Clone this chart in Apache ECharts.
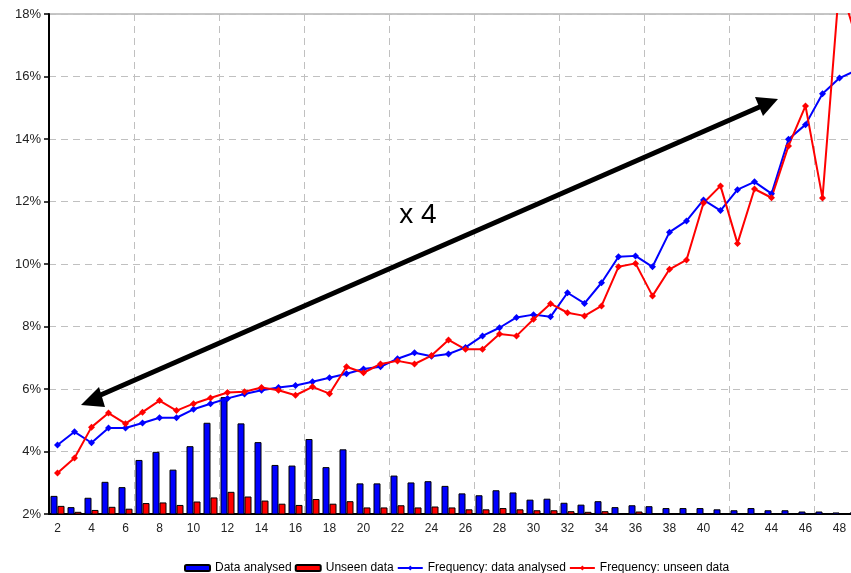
<!DOCTYPE html>
<html>
<head>
<meta charset="utf-8">
<script src="https://cdn.jsdelivr.net/npm/echarts@6/dist/echarts.min.js"></script>
<style>
    html, body { margin: 0; padding: 0; background: #fff; overflow: hidden; }
    /* wider than the window: the original is cropped just past category 48 */
    #chart { width: 865px; height: 573px; }
</style>
</head>
<body>
<div id="chart"></div>
<script>
// categories 2..49 (49 lies just past the right edge, as in the cropped original)
const categories = ['2', '3', '4', '5', '6', '7', '8', '9', '10', '11', '12', '13', '14', '15', '16', '17',
    '18', '19', '20', '21', '22', '23', '24', '25', '26', '27', '28', '29', '30', '31', '32', '33',
    '34', '35', '36', '37', '38', '39', '40', '41', '42', '43', '44', '45', '46', '47', '48', '49'];

const dataAnalysed = [2.58, 2.22, 2.52, 3.03, 2.86, 3.73, 3.99, 3.42, 4.17, 4.92, 5.74, 4.90, 4.30, 3.57, 3.55, 4.40,
    3.50, 4.07, 2.98, 2.98, 3.23, 3.01, 3.05, 2.90, 2.66, 2.60, 2.76, 2.69, 2.46, 2.49, 2.36, 2.30,
    2.41, 2.22, 2.28, 2.25, 2.19, 2.19, 2.19, 2.15, 2.12, 2.19, 2.12, 2.12, 2.08, 2.08, 2.05, 2.05];

const unseenData = [2.26, 2.07, 2.13, 2.23, 2.17, 2.35, 2.37, 2.29, 2.40, 2.53, 2.71, 2.56, 2.43, 2.33, 2.29, 2.48,
    2.33, 2.41, 2.21, 2.21, 2.28, 2.21, 2.24, 2.21, 2.15, 2.15, 2.19, 2.15, 2.12, 2.12, 2.09, 2.07,
    2.09, 2.03, 2.08, 2.02, 2.02, 2.01, 2.02, 2.01, 2.01, 2.01, 2.01, 2.01, 2.01, 2.01, 2.01, 2.01];

const freqAnalysed = [4.21, 4.63, 4.28, 4.75, 4.75, 4.91, 5.08, 5.08, 5.35, 5.53, 5.70, 5.84, 5.96, 6.05, 6.11, 6.23,
    6.36, 6.49, 6.64, 6.71, 6.97, 7.16, 7.05, 7.12, 7.33, 7.70, 7.96, 8.29, 8.38, 8.31, 9.08, 8.74,
    9.40, 10.23, 10.26, 9.91, 11.02, 11.38, 12.05, 11.71, 12.38, 12.63, 12.25, 13.99, 14.46, 15.45, 15.95, 16.2];

const freqUnseen = [3.31, 3.79, 4.78, 5.23, 4.89, 5.26, 5.63, 5.31, 5.53, 5.71, 5.89, 5.91, 6.05, 5.96, 5.80, 6.07,
    5.85, 6.71, 6.52, 6.80, 6.90, 6.80, 7.07, 7.57, 7.27, 7.27, 7.76, 7.70, 8.23, 8.73, 8.44, 8.34,
    8.66, 9.91, 10.02, 8.98, 9.83, 10.13, 11.95, 12.50, 10.66, 12.40, 12.12, 13.78, 15.06, 12.11, 19.0, 17.2];

let chartDom = document.getElementById('chart');
let myChart = echarts.init(chartDom);

const dashed = {
    show: true,
    lineStyle: { color: '#c0c0c0', width: 1, type: [7, 5] }
};

let option = {
    animation: false,
    textStyle: {
        fontFamily: 'Liberation Sans, Arial, sans-serif'
    },
    grid: {
        top: 14,
        bottom: 59,
        left: 49,
        right: 0,
        show: true,
        borderColor: '#8c8c8c',
        borderWidth: 1
    },
    legend: {
        left: 179,
        top: 557,
        itemWidth: 25,
        itemHeight: 6,
        itemGap: 3,
        textStyle: { fontSize: 12, color: '#000' },
        data: ['Data analysed', 'Unseen data', 'Frequency: data analysed', 'Frequency: unseen data']
    },
    xAxis: {
        type: 'category',
        data: categories,
        axisLine: { lineStyle: { color: '#000', width: 2 } },
        axisTick: { interval: 4, length: 5, lineStyle: { color: '#000', width: 1.5 } },
        axisLabel: { interval: 1, color: '#222', fontSize: 12, margin: 9 },
        splitLine: Object.assign({ interval: 4 }, dashed)
    },
    yAxis: {
        type: 'value',
        min: 2,
        max: 18,
        interval: 2,
        axisLine: { show: true, lineStyle: { color: '#000', width: 2 } },
        axisTick: { show: true, length: 5, lineStyle: { color: '#000', width: 1.5 } },
        axisLabel: { formatter: '{value}%', color: '#222', fontSize: 13, margin: 8 },
        splitLine: dashed
    },
    series: [
        {
            name: 'Data analysed',
            type: 'bar',
            data: dataAnalysed,
            barWidth: 7,
            barGap: '0%',
            itemStyle: { color: '#0000ff', borderColor: '#000', borderWidth: 1 }
        },
        {
            name: 'Unseen data',
            type: 'bar',
            data: unseenData,
            barWidth: 7,
            barGap: '0%',
            itemStyle: { color: '#ff0000', borderColor: '#000', borderWidth: 1 }
        },
        {
            name: 'Frequency: data analysed',
            type: 'line',
            data: freqAnalysed,
            symbol: 'diamond',
            symbolSize: 7,
            lineStyle: { color: '#0000ff', width: 2 },
            itemStyle: { color: '#0000ff' }
        },
        {
            name: 'Frequency: unseen data',
            type: 'line',
            data: freqUnseen,
            symbol: 'diamond',
            symbolSize: 7,
            lineStyle: { color: '#ff0000', width: 2 },
            itemStyle: { color: '#ff0000' }
        }
    ],
    // the "x 4" double arrow annotation
    graphic: [
        {
            type: 'line',
            z: 100,
            shape: { x1: 96, y1: 397, x2: 764, y2: 105 },
            style: { stroke: '#000', lineWidth: 5 }
        },
        {
            type: 'polygon',
            z: 100,
            shape: { points: [[81, 405], [99, 387], [105, 407]] },
            style: { fill: '#000' }
        },
        {
            type: 'polygon',
            z: 100,
            shape: { points: [[778, 99], [755, 97], [763, 116]] },
            style: { fill: '#000' }
        },
        {
            type: 'text',
            z: 100,
            x: 418,
            y: 215,
            style: {
                text: 'x 4',
                fill: '#000',
                font: '28px Liberation Sans, Arial, sans-serif',
                align: 'center',
                verticalAlign: 'middle'
            }
        }
    ]
};
option && myChart.setOption(option);
</script>
</body>
</html>
